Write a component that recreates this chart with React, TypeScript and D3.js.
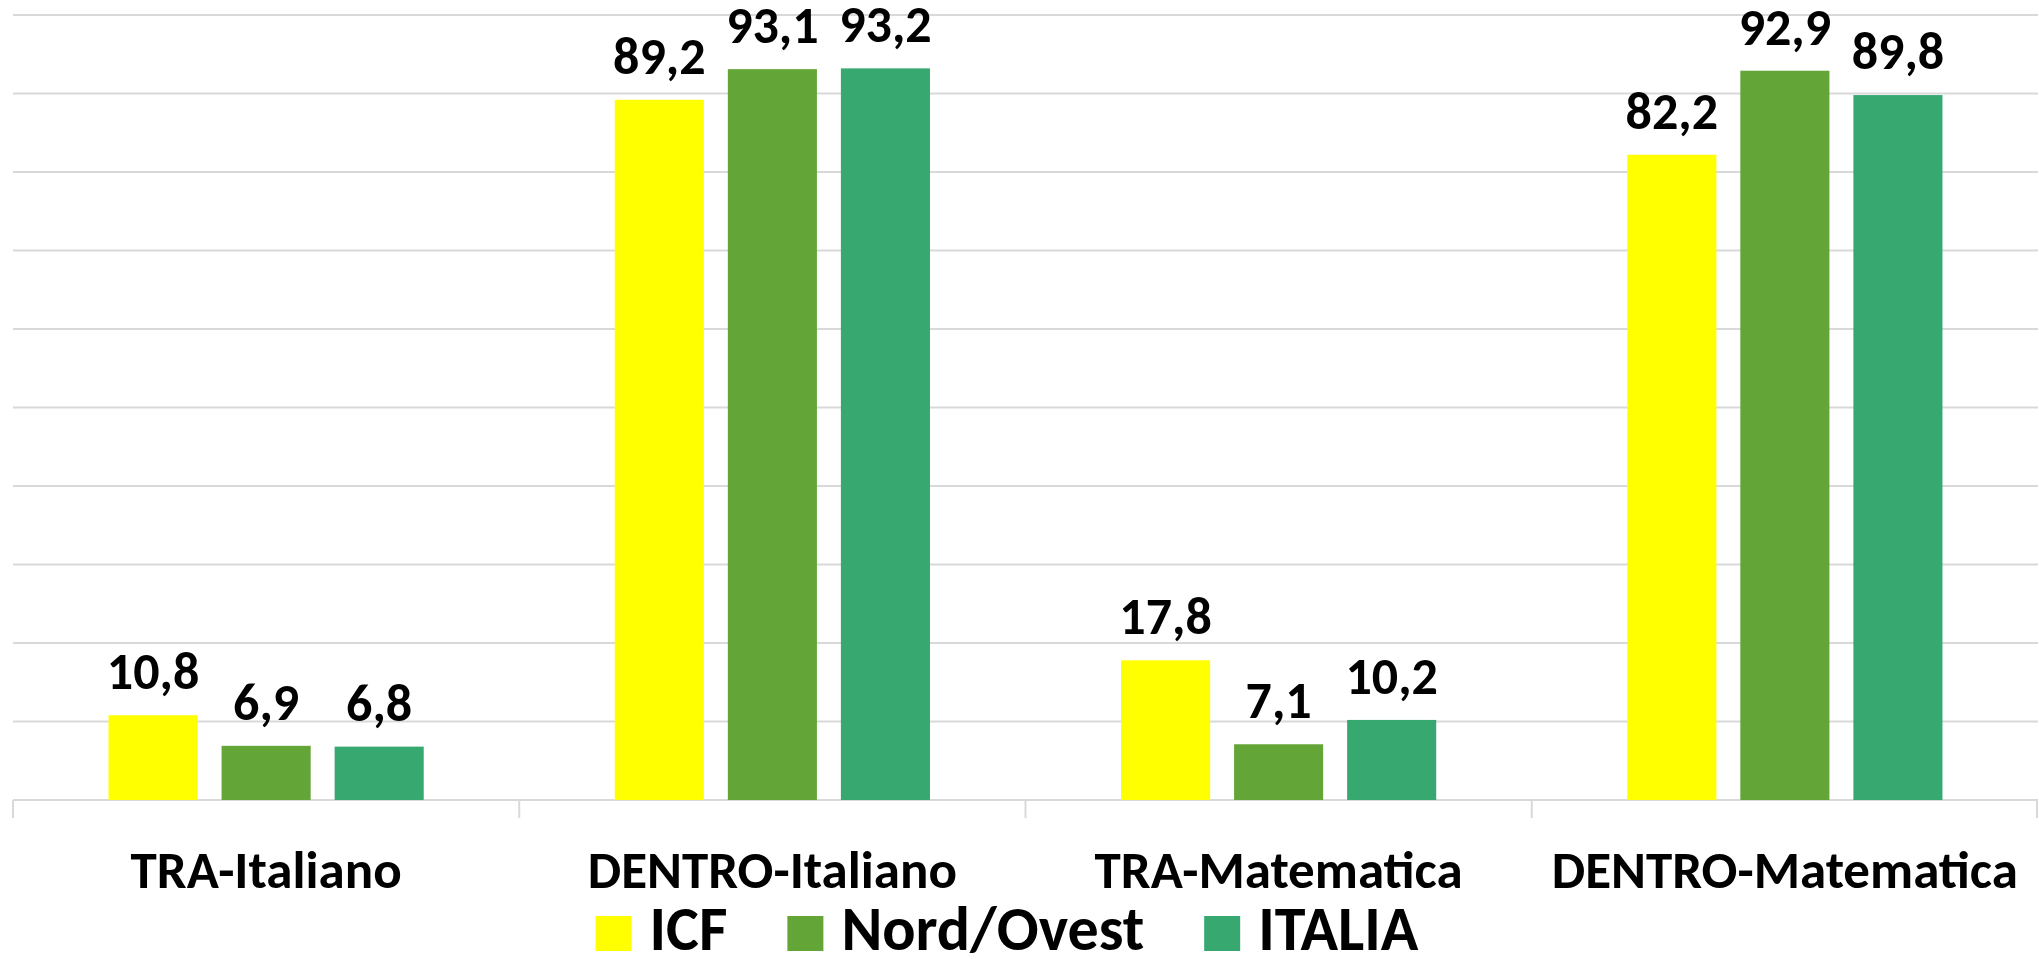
import React, { useEffect, useRef } from 'react';
import * as d3 from 'd3';

const categories = ['TRA-Italiano', 'DENTRO-Italiano', 'TRA-Matematica', 'DENTRO-Matematica'];
const series = ['ICF', 'Nord/Ovest', 'ITALIA'];
const icf = [10.8, 89.2, 17.8, 82.2];
const nordOvest = [6.9, 93.1, 7.1, 92.9];
const italia = [6.8, 93.2, 10.2, 89.8];
const yTicks = [0, 10, 20, 30, 40, 50, 60, 70, 80, 90, 100];

const colors = ['#ffff00', '#63a537', '#37a870'];

const width = 2039;
const height = 959;
const margin = { top: 15, right: 1, bottom: 159, left: 13 };
const font = "Carlito, Calibri, 'Liberation Sans Narrow', 'Open Sans', sans-serif";

const fmt = (v: number) => v.toFixed(1).replace('.', ',');

function App() {
  const ref = useRef<SVGSVGElement>(null);

  useEffect(() => {
    const svg = d3.select(ref.current);
    svg.selectAll('*').remove();

    const values = [icf, nordOvest, italia];
    const rows = categories.map((c, i) => ({ cat: c, vals: series.map((s, j) => ({ s, v: values[j][i] })) }));

    const x0 = d3.scaleBand().domain(categories).range([margin.left, width - margin.right]);
    const x1 = d3.scaleBand().domain(series).range([0, x0.bandwidth()]).paddingInner(0.212).paddingOuter(0.845);
    const y = d3.scaleLinear().domain([0, 100]).range([height - margin.bottom, margin.top]);

    // gridlines
    svg.append('g')
      .selectAll('line')
      .data(yTicks)
      .join('line')
      .attr('x1', margin.left)
      .attr('x2', width - margin.right)
      .attr('y1', d => y(d))
      .attr('y2', d => y(d))
      .attr('stroke', '#d9d9d9')
      .attr('stroke-width', 2);

    // category ticks
    const bounds = [...categories.map(c => x0(c) as number), width - margin.right - 1];
    svg.append('g')
      .selectAll('line')
      .data(bounds)
      .join('line')
      .attr('x1', d => d)
      .attr('x2', d => d)
      .attr('y1', y(0))
      .attr('y2', y(0) + 18)
      .attr('stroke', '#d9d9d9')
      .attr('stroke-width', 2);

    const groups = svg.append('g')
      .selectAll('g')
      .data(rows)
      .join('g')
      .attr('transform', d => `translate(${x0(d.cat)},0)`);

    groups.selectAll('rect')
      .data(d => d.vals)
      .join('rect')
      .attr('x', d => x1(d.s) as number)
      .attr('width', x1.bandwidth())
      .attr('y', d => y(d.v))
      .attr('height', d => y(0) - y(d.v))
      .attr('fill', (d, i) => colors[i]);

    groups.selectAll('text')
      .data(d => d.vals)
      .join('text')
      .attr('x', d => (x1(d.s) as number) + x1.bandwidth() / 2)
      .attr('y', d => y(d.v) - 26)
      .attr('text-anchor', 'middle')
      .attr('font-family', font)
      .attr('font-weight', 'bold')
      .attr('font-size', 52)
      .attr('fill', '#000')
      .text(d => fmt(d.v));

    // category labels
    svg.append('g')
      .selectAll('text')
      .data(categories)
      .join('text')
      .attr('x', d => (x0(d) as number) + x0.bandwidth() / 2)
      .attr('y', 888)
      .attr('text-anchor', 'middle')
      .attr('font-family', font)
      .attr('font-weight', 'bold')
      .attr('font-size', 53)
      .attr('fill', '#000')
      .text(d => d);

    // legend
    const legend = svg.append('g');
    const items = legend.selectAll('g')
      .data(series)
      .join('g');
    items.append('rect')
      .attr('width', 36)
      .attr('height', 35)
      .attr('y', 916)
      .attr('fill', (d, i) => colors[i]);
    items.append('text')
      .attr('x', 54)
      .attr('y', 950)
      .attr('font-family', font)
      .attr('font-weight', 'bold')
      .attr('font-size', 62)
      .attr('fill', '#000')
      .text(d => d);
    let pos = 0;
    const offsets: number[] = [];
    items.each(function () {
      offsets.push(pos);
      const t = d3.select(this).select('text').node() as SVGTextElement;
      pos += 54 + t.getComputedTextLength() + 60;
    });
    const total = pos - 60;
    const start = 1007 - total / 2;
    items.attr('transform', (d, i) => `translate(${start + offsets[i]},0)`);
  }, []);

  return (
    <svg
      ref={ref}
      width={width}
      height={height}
      style={{ position: 'absolute', left: 0, top: 0, background: '#fff' }}
    />
  );
}

export default App;
